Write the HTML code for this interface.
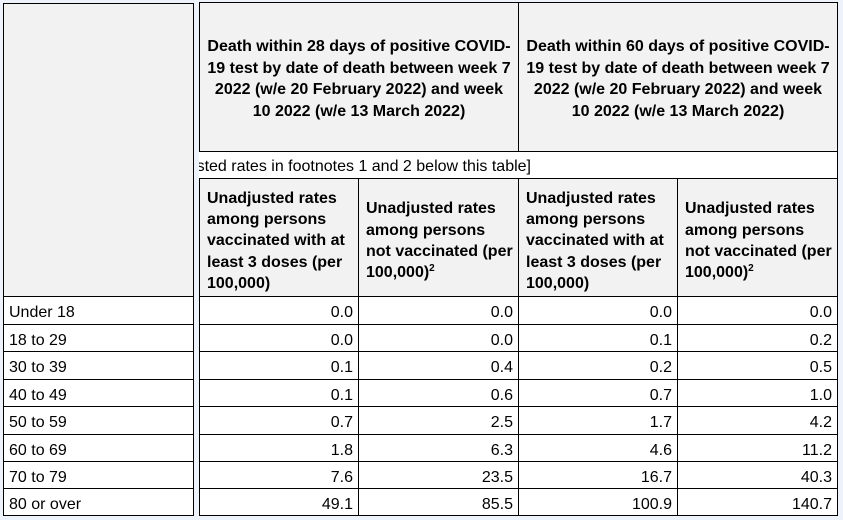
<!DOCTYPE html>
<html>
<head>
<meta charset="utf-8">
<style>
  html, body { margin:0; padding:0; }
  body {
    width:843px; height:520px; overflow:hidden; position:relative;
    background:#eef2fb;
    font-family:"Liberation Sans", Arial, sans-serif;
    color:#000;
  }
  .c {
    position:absolute; box-sizing:border-box; border:1px solid #000;
    background:#fff; display:flex; align-items:center; white-space:nowrap;
    font-size:16px; overflow:hidden;
  }
  .g { background:#f2f2f2; }
  .hd { font-weight:bold; justify-content:center; text-align:center; line-height:21.5px; padding-top:4px; }
  .sh { font-weight:bold; justify-content:flex-start; text-align:left; line-height:21.3px; padding-left:7px; padding-top:7px; }
  .lab { padding-left:5px; padding-top:5px; }
  .num { justify-content:flex-end; padding-right:5px; padding-top:5px; }
  sup { font-size:10px; line-height:0; vertical-align:6px; }
  .fn { position:absolute; box-sizing:border-box; background:#fff; overflow:hidden;
        border-right:1px solid #000; font-size:16px; white-space:nowrap; }
  .fn span { position:absolute; right:306px; top:6px; }
</style>
</head>
<body>

<!-- Left frozen column -->
<div class="c g" style="left:3px;top:3px;width:191px;height:294px;"></div>
<div class="c lab" style="left:3px;top:296px;width:191px;height:29px;"><div>Under 18</div></div>
<div class="c lab" style="left:3px;top:324px;width:191px;height:28px;"><div>18 to 29</div></div>
<div class="c lab" style="left:3px;top:351px;width:191px;height:29px;"><div>30 to 39</div></div>
<div class="c lab" style="left:3px;top:379px;width:191px;height:28px;"><div>40 to 49</div></div>
<div class="c lab" style="left:3px;top:406px;width:191px;height:29px;"><div>50 to 59</div></div>
<div class="c lab" style="left:3px;top:434px;width:191px;height:28px;"><div>60 to 69</div></div>
<div class="c lab" style="left:3px;top:461px;width:191px;height:28px;"><div>70 to 79</div></div>
<div class="c lab" style="left:3px;top:488px;width:191px;height:28px;"><div>80 or over</div></div>

<!-- Right panel headers -->
<div class="c g hd" style="left:199px;top:2px;width:320px;height:150px;"><div>Death within 28 days of positive COVID-<br>19 test by date of death between week 7<br>2022 (w/e 20 February 2022) and week<br>10 2022 (w/e 13 March 2022)</div></div>
<div class="c g hd" style="left:518px;top:2px;width:320px;height:150px;"><div>Death within 60 days of positive COVID-<br>19 test by date of death between week 7<br>2022 (w/e 20 February 2022) and week<br>10 2022 (w/e 13 March 2022)</div></div>

<!-- Footnote row -->
<div class="fn" style="left:199px;top:152px;width:639px;height:27px;"><span>[See unadjusted rates in footnotes 1 and 2 below this table]</span></div>
<div style="position:absolute;left:199px;top:178px;width:639px;height:1px;background:#000;"></div>

<!-- Sub headers -->
<div class="c g sh" style="left:199px;top:178px;width:160px;height:119px;"><div>Unadjusted rates<br>among persons<br>vaccinated with at<br>least 3 doses (per<br>100,000)</div></div>
<div class="c g sh" style="left:358px;top:178px;width:161px;height:119px;"><div>Unadjusted rates<br>among persons<br>not vaccinated (per<br>100,000)<sup>2</sup></div></div>
<div class="c g sh" style="left:518px;top:178px;width:160px;height:119px;"><div>Unadjusted rates<br>among persons<br>vaccinated with at<br>least 3 doses (per<br>100,000)</div></div>
<div class="c g sh" style="left:677px;top:178px;width:161px;height:119px;"><div>Unadjusted rates<br>among persons<br>not vaccinated (per<br>100,000)<sup>2</sup></div></div>

<!-- Data rows -->
<div class="c num" style="left:199px;top:296px;width:160px;height:29px;"><div>0.0</div></div>
<div class="c num" style="left:358px;top:296px;width:161px;height:29px;"><div>0.0</div></div>
<div class="c num" style="left:518px;top:296px;width:160px;height:29px;"><div>0.0</div></div>
<div class="c num" style="left:677px;top:296px;width:161px;height:29px;"><div>0.0</div></div>

<div class="c num" style="left:199px;top:324px;width:160px;height:28px;"><div>0.0</div></div>
<div class="c num" style="left:358px;top:324px;width:161px;height:28px;"><div>0.0</div></div>
<div class="c num" style="left:518px;top:324px;width:160px;height:28px;"><div>0.1</div></div>
<div class="c num" style="left:677px;top:324px;width:161px;height:28px;"><div>0.2</div></div>

<div class="c num" style="left:199px;top:351px;width:160px;height:29px;"><div>0.1</div></div>
<div class="c num" style="left:358px;top:351px;width:161px;height:29px;"><div>0.4</div></div>
<div class="c num" style="left:518px;top:351px;width:160px;height:29px;"><div>0.2</div></div>
<div class="c num" style="left:677px;top:351px;width:161px;height:29px;"><div>0.5</div></div>

<div class="c num" style="left:199px;top:379px;width:160px;height:28px;"><div>0.1</div></div>
<div class="c num" style="left:358px;top:379px;width:161px;height:28px;"><div>0.6</div></div>
<div class="c num" style="left:518px;top:379px;width:160px;height:28px;"><div>0.7</div></div>
<div class="c num" style="left:677px;top:379px;width:161px;height:28px;"><div>1.0</div></div>

<div class="c num" style="left:199px;top:406px;width:160px;height:29px;"><div>0.7</div></div>
<div class="c num" style="left:358px;top:406px;width:161px;height:29px;"><div>2.5</div></div>
<div class="c num" style="left:518px;top:406px;width:160px;height:29px;"><div>1.7</div></div>
<div class="c num" style="left:677px;top:406px;width:161px;height:29px;"><div>4.2</div></div>

<div class="c num" style="left:199px;top:434px;width:160px;height:28px;"><div>1.8</div></div>
<div class="c num" style="left:358px;top:434px;width:161px;height:28px;"><div>6.3</div></div>
<div class="c num" style="left:518px;top:434px;width:160px;height:28px;"><div>4.6</div></div>
<div class="c num" style="left:677px;top:434px;width:161px;height:28px;"><div>11.2</div></div>

<div class="c num" style="left:199px;top:461px;width:160px;height:28px;"><div>7.6</div></div>
<div class="c num" style="left:358px;top:461px;width:161px;height:28px;"><div>23.5</div></div>
<div class="c num" style="left:518px;top:461px;width:160px;height:28px;"><div>16.7</div></div>
<div class="c num" style="left:677px;top:461px;width:161px;height:28px;"><div>40.3</div></div>

<div class="c num" style="left:199px;top:488px;width:160px;height:28px;"><div>49.1</div></div>
<div class="c num" style="left:358px;top:488px;width:161px;height:28px;"><div>85.5</div></div>
<div class="c num" style="left:518px;top:488px;width:160px;height:28px;"><div>100.9</div></div>
<div class="c num" style="left:677px;top:488px;width:161px;height:28px;"><div>140.7</div></div>

</body>
</html>
